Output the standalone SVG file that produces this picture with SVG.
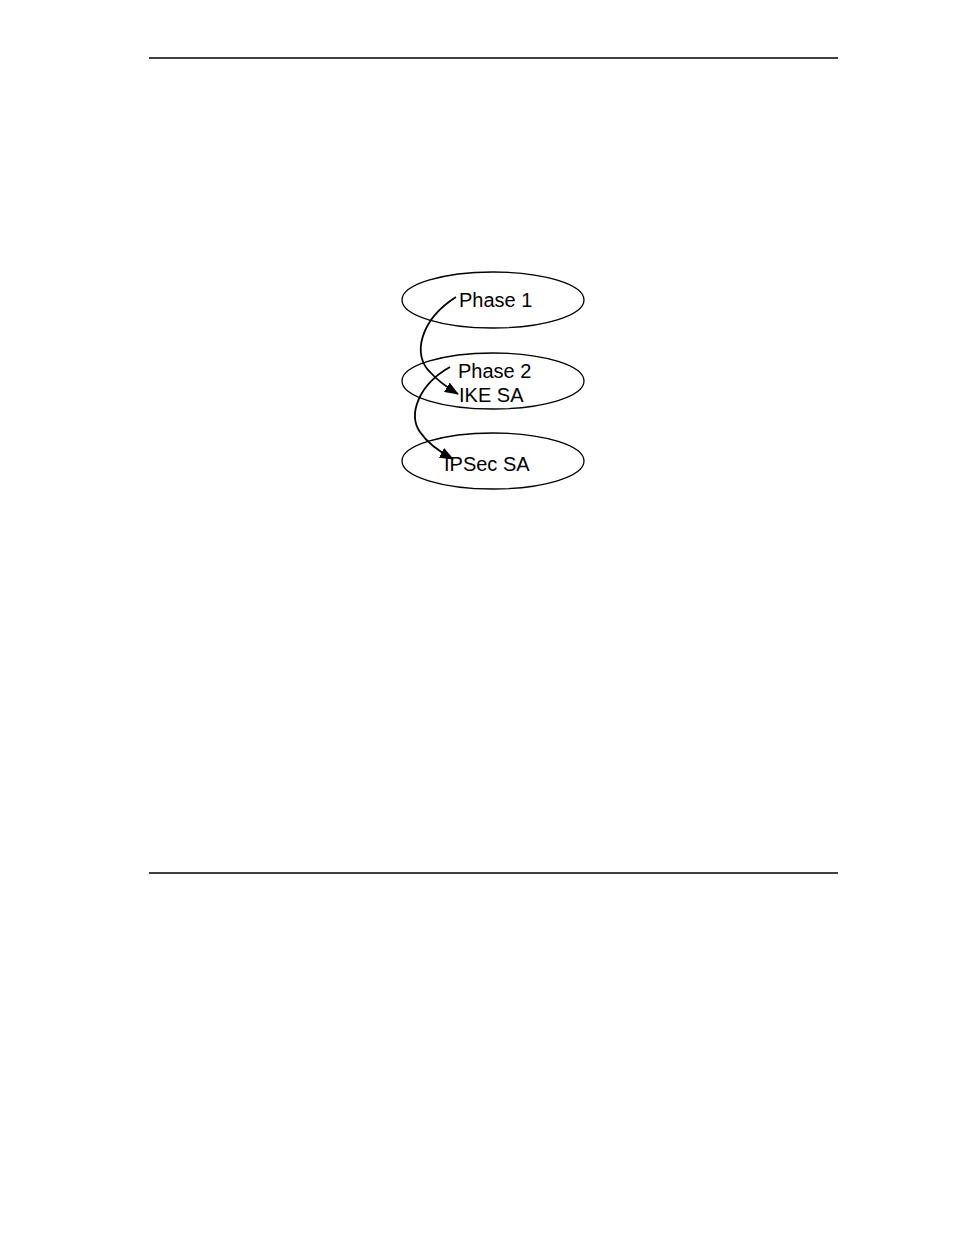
<svg xmlns="http://www.w3.org/2000/svg" width="954" height="1235" viewBox="0 0 954 1235">
<style>
.rule{stroke:#000;stroke-width:1.5}
.ell{fill:none;stroke:#000;stroke-width:1.3}
.lbl{font-family:"Liberation Sans",Arial,sans-serif;font-size:20px;fill:#000}
.con{fill:none;stroke:#000;stroke-width:1.8}
</style>
<defs>
<marker id="arr" markerWidth="14" markerHeight="11" refX="13" refY="5.5" orient="auto" markerUnits="userSpaceOnUse">
<path d="M0,0 L14,5.5 L0,11 z" fill="#000"/>
</marker>
</defs>
<rect width="954" height="1235" fill="#fff"/>
<line class="rule" x1="149" y1="58" x2="838" y2="58"/>
<line class="rule" x1="149" y1="873" x2="838" y2="873"/>
<g id="node-phase1">
<ellipse class="ell" cx="493" cy="300" rx="91" ry="28"/>
<text class="lbl" x="459" y="307">Phase 1</text>
</g>
<g id="node-phase2">
<ellipse class="ell" cx="493" cy="381" rx="91" ry="28"/>
<text class="lbl" x="458" y="378">Phase 2</text>
<text class="lbl" x="459" y="402">IKE SA</text>
</g>
<g id="node-ipsec">
<ellipse class="ell" cx="493" cy="461" rx="91" ry="28"/>
<text class="lbl" x="444" y="471">IPSec SA</text>
</g>
<g id="connectors">
<path class="con" d="M456,297 C420,320 412,355 430,372 C438,381 448,388 458,394" marker-end="url(#arr)"/>
<path class="con" d="M450,367 C418,385 408,415 420,432 C428,444 440,452 453,459" marker-end="url(#arr)"/>
</g>
</svg>
